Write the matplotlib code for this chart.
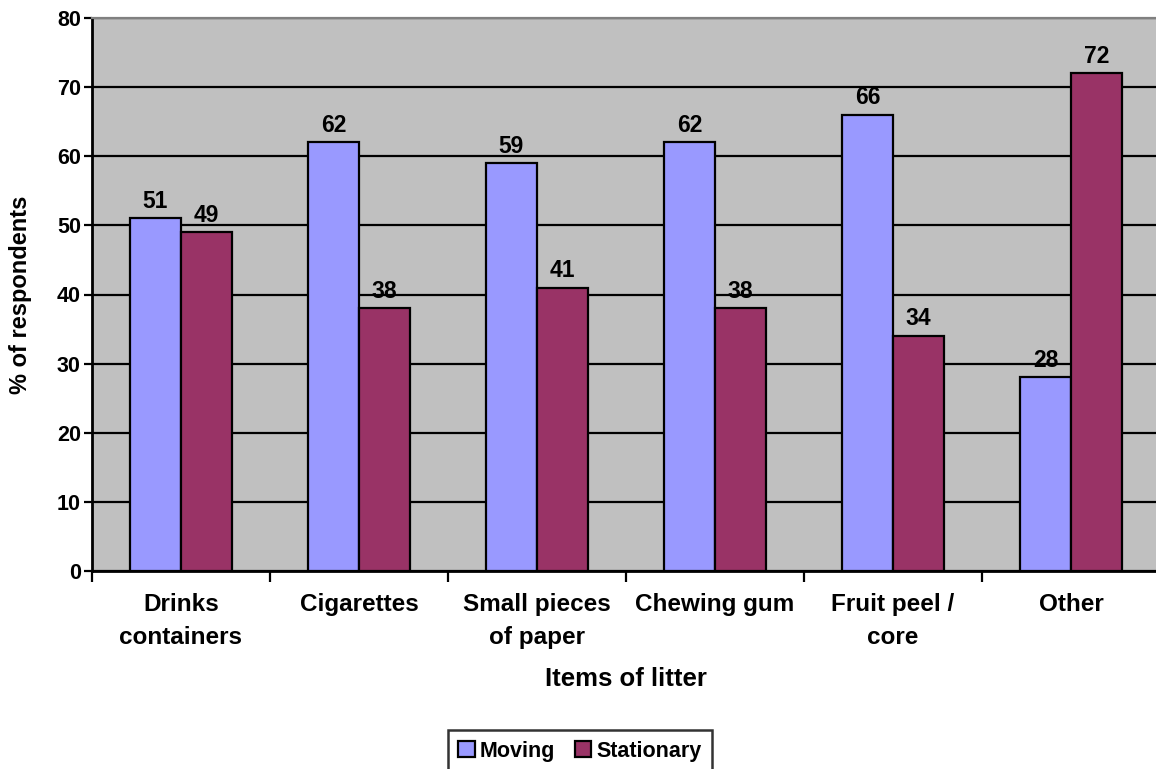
import matplotlib
matplotlib.use("Agg")
import matplotlib.pyplot as plt
from matplotlib.patches import Patch
import numpy as np

plt.rcParams['font.family'] = ['Liberation Sans', 'DejaVu Sans']
plt.rcParams['font.weight'] = 'bold'

categories = ["Drinks\ncontainers", "Cigarettes", "Small pieces\nof paper",
              "Chewing gum", "Fruit peel /\ncore", "Other"]
moving = [51, 62, 59, 62, 66, 28]
stationary = [49, 38, 41, 38, 34, 72]
y_ticks = [0, 10, 20, 30, 40, 50, 60, 70, 80]

c_moving = "#9999FF"
c_stat = "#993366"
bg = "#C0C0C0"

fig = plt.figure(figsize=(11.56, 7.69), dpi=100)
ax = fig.add_axes([92 / 1156, 1 - 571 / 769, 1068 / 1156, 553 / 769])
ax.set_facecolor(bg)

x = np.arange(len(categories))
w = 0.287
b1 = ax.bar(x - w / 2, moving, w, color=c_moving, edgecolor="black", linewidth=1.6, zorder=3)
b2 = ax.bar(x + w / 2, stationary, w, color=c_stat, edgecolor="black", linewidth=1.6, zorder=3)

for bars, vals in ((b1, moving), (b2, stationary)):
    for r, v in zip(bars, vals):
        ax.text(r.get_x() + r.get_width() / 2, v + 0.8, f"{v}", ha="center", va="bottom",
                fontsize=16.5, fontweight="bold", zorder=5)

ax.set_xlim(-0.5, len(categories) - 0.5)
ax.set_ylim(0, 80)
ax.set_yticks(y_ticks)
ax.set_yticklabels([str(t) for t in y_ticks], fontsize=15.5, fontweight="bold")
ax.yaxis.grid(True, color="black", linewidth=1.6, zorder=1)
ax.set_axisbelow(True)

ax.set_xticks(x)
ax.set_xticklabels(categories, fontsize=17.5, fontweight="bold", linespacing=1.55)
ax.tick_params(axis="x", length=0, pad=16)
ax.set_xticks(np.arange(len(categories) + 1) - 0.5, minor=True)
ax.tick_params(axis="x", which="minor", length=8, width=1.6, direction="out")
ax.tick_params(axis="y", length=6, width=1.6, direction="out", pad=2)

for s in ("left", "bottom"):
    ax.spines[s].set_linewidth(2)
    ax.spines[s].set_color("black")
ax.spines["top"].set_color("#808080")
ax.spines["top"].set_linewidth(1.6)
ax.spines["right"].set_visible(False)

ax.set_xlabel("Items of litter", fontsize=18.5, fontweight="bold", labelpad=13)
ax.set_ylabel("% of respondents", fontsize=17, fontweight="bold", labelpad=18)

handles = [Patch(facecolor=c_moving, edgecolor="black", linewidth=1.6, label="Moving"),
           Patch(facecolor=c_stat, edgecolor="black", linewidth=1.6, label="Stationary")]
leg = fig.legend(handles=handles, loc="upper center", bbox_to_anchor=(580 / 1156, 1 - 730 / 769),
                 ncol=2, fontsize=15.5, frameon=True, fancybox=False, edgecolor="black",
                 handlelength=0.75, handleheight=0.75, handletextpad=0.25, columnspacing=0.9,
                 borderpad=0.5, borderaxespad=0)
leg.get_frame().set_linewidth(1.8)
for t in leg.get_texts():
    t.set_fontweight("bold")

fig.savefig("out.png", dpi=100)
